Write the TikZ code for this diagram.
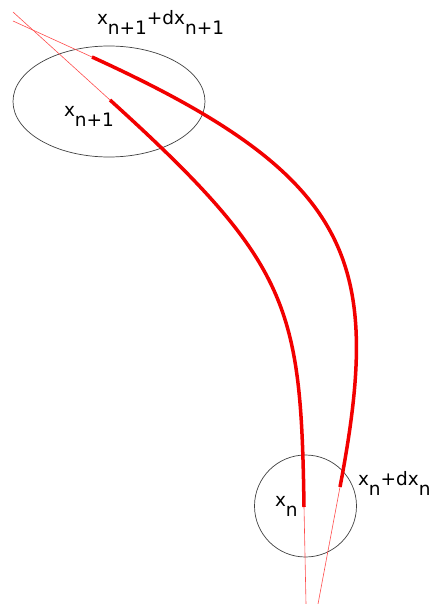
\documentclass[tikz,border=0pt]{standalone}
\usepackage{fontspec}
\setmainfont{DejaVu Sans}
\newcommand\lowr[1]{\raisebox{-10pt}{#1}}
\begin{document}
\begin{tikzpicture}[x=1pt,y=-1pt,
  thick red/.style={draw=red!95!black,line width=3.5pt},
  thin red/.style={draw=red!70!white,line width=0.6pt},
  ring/.style={draw=black!75,line width=0.7pt},
  lbl/.style={inner sep=0pt,outer sep=0pt,anchor=base west,font=\fontsize{18.5}{20}\selectfont}]
\useasboundingbox (0,0) rectangle (433,604);
\clip (0,0) rectangle (433,604);
% circles
\draw[ring] (109,101.5) ellipse [x radius=96pt, y radius=55.5pt];
\draw[ring] (305.5,506) circle [radius=51pt];
% points
\coordinate (ta) at (13,12);
\coordinate (tb) at (13,21);
\coordinate (p1) at (110,100);
\coordinate (q1) at (92,57);
\coordinate (p0) at (304,507);
\coordinate (q0) at (340,487);
\coordinate (ba) at (306,604);
\coordinate (bb) at (318,604);
% thin tangents
\draw[thin red] (ta) -- (p1);
\draw[thin red] (tb) -- (q1);
\draw[thin red] (p0) -- (ba);
\draw[thin red] (q0) -- (bb);
% thick curves
\draw[thick red] (p1) .. controls (291,264) and (301,307) .. (p0);
\draw[thick red] (q1) .. controls (355,177) and (383,261) .. (q0);
% labels
\node[lbl] (l1) at (97,25) {x\lowr{n+1}+dx\lowr{n+1}};
\node[lbl] (l2) at (64,117) {x\lowr{n+1}};
\node[lbl] (l3) at (275,506) {x\lowr{n}};
\node[lbl] (l4) at (358,485) {x\lowr{n}+dx\lowr{n}};
\end{tikzpicture}
\end{document}
